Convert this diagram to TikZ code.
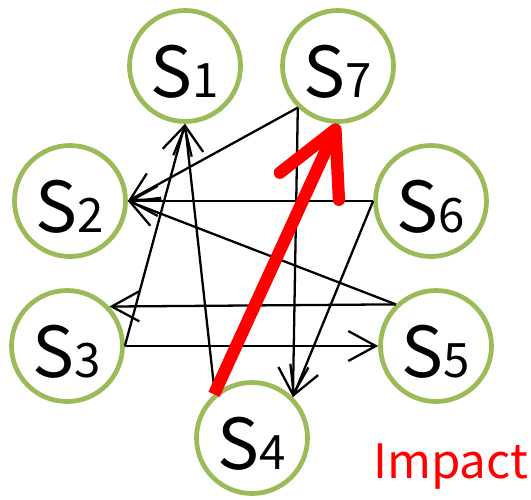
\documentclass[tikz,border=0pt]{standalone}
\usepackage{fontspec}
\newfontfamily\labelfont{Noto Sans CJK JP}
\usepackage{tikz}
\usetikzlibrary{arrows.meta, positioning}
\definecolor{stategreen}{HTML}{9BBB59}
\newcommand{\slabel}[1]{\labelfont\fontsize{40}{40}\selectfont S\fontsize{27}{27}\selectfont #1}

\begin{document}
\begin{tikzpicture}[x=0.02cm, y=-0.02cm,
    state/.style={circle, draw=stategreen, line width=2.7pt, minimum size=2.22cm,
        inner sep=0pt, text height=1.26cm, text depth=0cm},
    link/.style={line width=1.3pt, -{Straight Barb[length=0.55cm, width=0.6cm]}},
    impactlink/.style={red, line width=7pt,
        -{Straight Barb[length=1.25cm, width=1.3cm, round]}}]
                \useasboundingbox (0,0) rectangle (531,500);

                \node[state] (s1) at (185,66)  {\slabel{1}};
                \node[state] (s7) at (338,66)  {\slabel{7}};
                \node[state] (s2) at (70,201)  {\slabel{2}};
                \node[state] (s6) at (431,201) {\slabel{6}};
                \node[state] (s3) at (67,346)  {\slabel{3}};
                \node[state] (s5) at (436,346) {\slabel{5}};
                \node[state] (s4) at (252,438) {\slabel{4}};

                \draw[link] (s7.226) -- (s2.east);
                \draw[link] (s7.226) -- (s4.45);
                \draw[link] (s6.west) -- (s2.east);
                \draw[link] (s6.west) -- (s4.45);
                \draw[link] (s5.134) -- (s2.east);
                \draw[link] (s5.134) -- (s3.43);
                \draw[link] (s3.east) -- (s5.west);
                \draw[link] (s3.east) -- (s1.south);
                \draw[link] (s4.130) -- (s1.south);

                \draw[impactlink] (s4.131) -- (s7.south);

                \node[anchor=base west, red, inner sep=0pt] (impact) at (373,478)
                    {\labelfont\fontsize{27}{27}\selectfont Impact};
            \end{tikzpicture}
\end{document}
